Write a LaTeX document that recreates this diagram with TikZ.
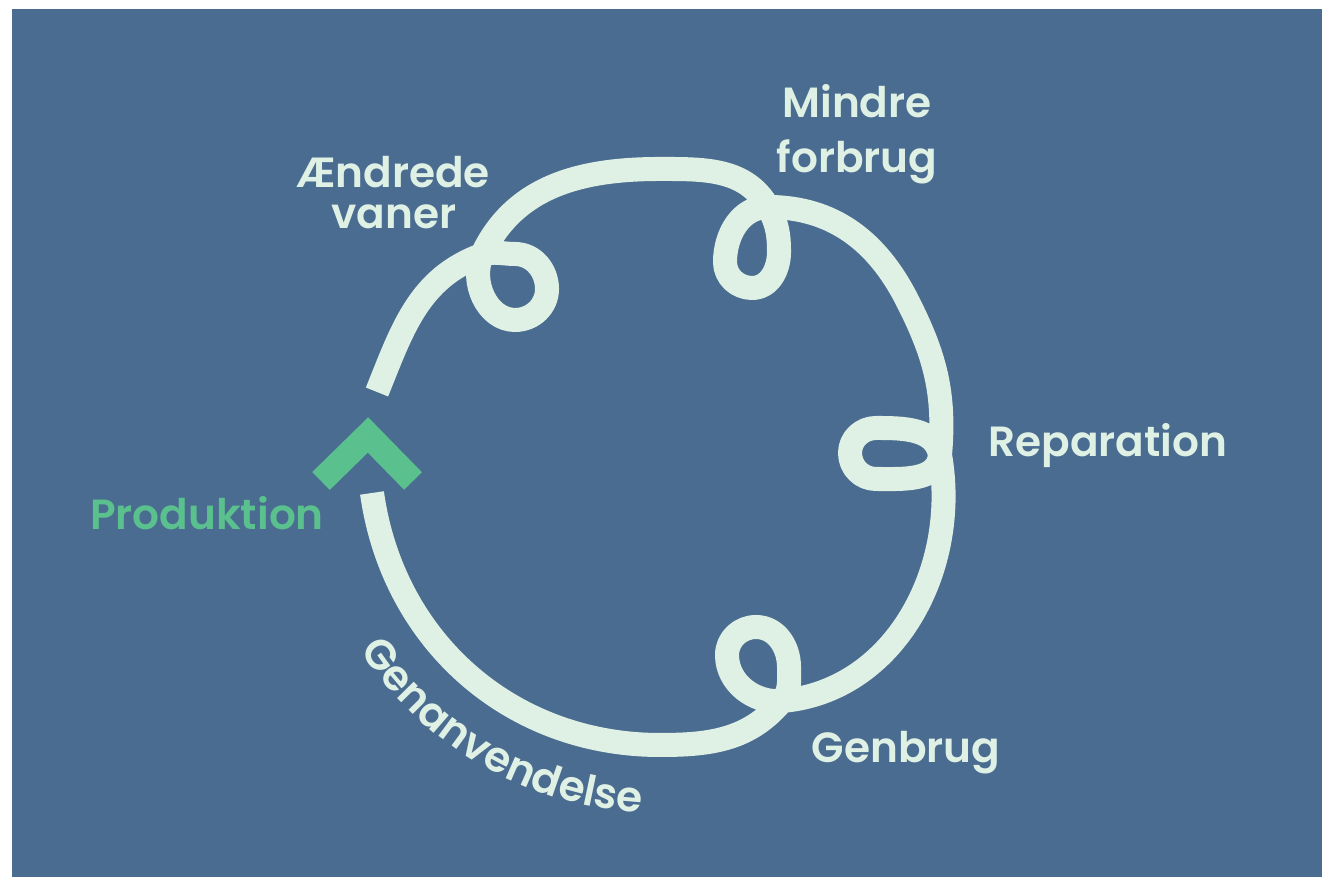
\documentclass[tikz,border=0pt]{standalone}
\usepackage{fontspec}
\setmainfont{Poppins}[BoldFont={Poppins SemiBold}]
\usetikzlibrary{decorations.text}
\definecolor{bg}{RGB}{74,108,144}
\definecolor{loopline}{RGB}{223,240,228}
\definecolor{arrowgreen}{RGB}{90,192,142}
\newcommand{\drawloop}{\draw[loopline, line width=0.24cm, line join=round]}
\newcommand{\labelfont}{\fontsize{12}{14}\selectfont\bfseries}

\begin{document}
\begin{tikzpicture}[x=0.01cm, y=0.01cm,
    looptext/.style={text=loopline, font=\labelfont, anchor=base, inner sep=0pt}]
\useasboundingbox (0,0) rectangle (1322,877);
\fill[bg] (12,0) rectangle (1322,868);
% points where the line crosses itself
\coordinate (cg) at (782,176);
\coordinate (cr) at (940,422);
\coordinate (cm) at (768,670);
\coordinate (ca) at (482,622);
% the line with its four loops
\drawloop (372,384) to[out=-82,in=180] (660,132) to[out=0,in=230] (cg)
    % Genbrug
    to[out=50,in=270] (789,210) to[out=90,in=0] (756,250)
    to[out=180,in=90] (727,222) to[out=270,in=185] (cg)
    to[out=5,in=280] (cr)
    % Reparation
    to[out=100,in=0] (876,449) to[out=180,in=90] (850,424)
    to[out=270,in=180] (876,398) to[out=0,in=265] (cr)
    to[out=85,in=297] (907,577) to[out=117,in=0] (cm)
    % Mindre forbrug
    to[out=180,in=90] (725,615) to[out=270,in=180] (752,589)
    to[out=0,in=270] (779,625) to[out=90,in=300] (cm)
    to[out=120,in=0] (660,708) to[out=180,in=65] (ca)
    % Aendrede vaner
    to[out=245,in=180] (515,557) to[out=0,in=270] (547,588)
    to[out=90,in=0] (515,623) to[out=180,in=20] (ca)
    to[out=200,in=68] (377,485);
% arrow in the gap
\draw[arrowgreen, line width=0.25cm, miter limit=4] (321,396) -- (368,442) -- (413,396);
% labels
\node[looptext] (mindre) at (857,759) {Mindre};
\node[looptext] (forbrug) at (857,704) {forbrug};
\node[looptext] (aendrede) at (393,689) {Ændrede};
\node[looptext] (vaner) at (394,648) {vaner};
\node[looptext] (reparation) at (1108,420) {Reparation};
\node[looptext] (genbrug) at (906,114) {Genbrug};
\node[looptext, text=arrowgreen] (produktion) at (207,347) {Produktion};
\path[decorate, decoration={text along path, text align=center,
    text={|\labelfont\color{loopline}|Genanvendelse}}]
    (660,422) ++(200:358) arc[start angle=200, end angle=280, radius=358];
\end{tikzpicture}
\end{document}
